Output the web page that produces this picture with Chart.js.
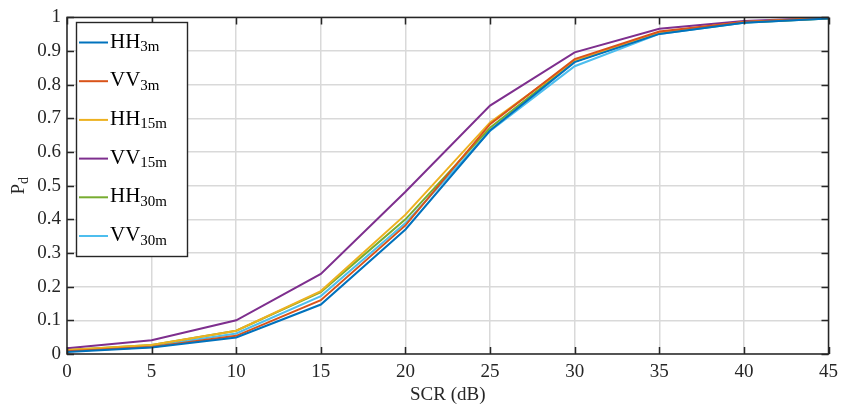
<!DOCTYPE html>
<html>
<head>
<meta charset="utf-8">
<script src="https://cdn.jsdelivr.net/npm/chart.js@4"></script>
<style>
  html, body { margin: 0; padding: 0; background: #fff; }
  #wrap { width: 845px; height: 410px; position: relative; }
</style>
</head>
<body>
<div id="wrap"><canvas id="pdChart" width="845" height="410"></canvas></div>
<script>
// SCR values (dB) on the x axis
var scr = [0, 5, 10, 15, 20, 25, 30, 35, 40, 45];

// detection probability for each polarisation / height
var hh3m  = [0.006, 0.019, 0.049, 0.147, 0.370, 0.664, 0.867, 0.951, 0.984, 0.997];
var vv3m  = [0.008, 0.021, 0.054, 0.160, 0.382, 0.683, 0.876, 0.958, 0.986, 0.998];
var hh15m = [0.012, 0.027, 0.069, 0.187, 0.414, 0.688, 0.871, 0.955, 0.986, 0.998];
var vv15m = [0.017, 0.041, 0.100, 0.238, 0.482, 0.738, 0.896, 0.966, 0.989, 0.999];
var hh30m = [0.012, 0.027, 0.069, 0.184, 0.400, 0.672, 0.869, 0.953, 0.985, 0.997];
var vv30m = [0.009, 0.023, 0.061, 0.172, 0.389, 0.663, 0.855, 0.951, 0.984, 0.997];

var xTicks = [0, 5, 10, 15, 20, 25, 30, 35, 40, 45];
var yTicks = [0, 0.1, 0.2, 0.3, 0.4, 0.5, 0.6, 0.7, 0.8, 0.9, 1];

var series = [
    { main: 'HH', sub: '3m',  data: hh3m,  color: '#0072BD' },
    { main: 'VV', sub: '3m',  data: vv3m,  color: '#D95319' },
    { main: 'HH', sub: '15m', data: hh15m, color: '#EDB120' },
    { main: 'VV', sub: '15m', data: vv15m, color: '#7E2F8E' },
    { main: 'HH', sub: '30m', data: hh30m, color: '#77AC30' },
    { main: 'VV', sub: '30m', data: vv30m, color: '#4DBEEE' }
];

var serif = '"Liberation Serif", "DejaVu Serif", serif';
var axisColor = '#262626';

// build chart datasets from the arrays above
var datasets = series.map(function(s){
    return {
        label: s.main + s.sub,
        data: scr.map(function(x, i){ return { x: x, y: s.data[i] }; }),
        borderColor: s.color,
        backgroundColor: s.color,
        borderWidth: 2,
        pointRadius: 0,
        tension: 0,
        fill: false
    };
});

// box, inner ticks, y label and legend drawn MATLAB style
var matlabFrame = {
    id: 'matlabFrame',
    afterDraw: function(chart){
        var ctx = chart.ctx;
        var a = chart.chartArea;
        var xs = chart.scales.x, ys = chart.scales.y;
        var tl = 7;
        ctx.save();
        ctx.strokeStyle = axisColor;
        ctx.lineWidth = 1.5;
        ctx.beginPath();
        xTicks.forEach(function(v){
            var px = Math.round(xs.getPixelForValue(v)) + 0.5;
            ctx.moveTo(px, a.bottom); ctx.lineTo(px, a.bottom - tl);
            ctx.moveTo(px, a.top); ctx.lineTo(px, a.top + tl);
        });
        yTicks.forEach(function(v){
            var py = Math.round(ys.getPixelForValue(v)) + 0.5;
            ctx.moveTo(a.left, py); ctx.lineTo(a.left + tl, py);
            ctx.moveTo(a.right, py); ctx.lineTo(a.right - tl, py);
        });
        ctx.stroke();
        ctx.strokeRect(a.left, a.top, a.right - a.left, a.bottom - a.top);

        // y axis label P_d
        ctx.fillStyle = axisColor;
        ctx.translate(24, (a.top + a.bottom) / 2);
        ctx.rotate(-Math.PI / 2);
        ctx.textBaseline = 'alphabetic';
        ctx.textAlign = 'left';
        ctx.font = '19px ' + serif;
        var wP = ctx.measureText('P').width;
        ctx.font = '14px ' + serif;
        var wd = ctx.measureText('d').width;
        var x0 = -(wP + wd) / 2;
        ctx.font = '19px ' + serif;
        ctx.fillText('P', x0, 0);
        ctx.font = '14px ' + serif;
        ctx.fillText('d', x0 + wP, 4);
        ctx.restore();

        // legend
        ctx.save();
        var bx = 76, by = 22, bw = 111, bh = 234;
        ctx.fillStyle = '#fff';
        ctx.fillRect(bx, by, bw, bh);
        ctx.strokeStyle = axisColor;
        ctx.lineWidth = 1.4;
        ctx.strokeRect(bx + 0.5, by + 0.5, bw, bh);
        series.forEach(function(s, i){
            var ly = 42.5 + i * 38.7;
            ctx.strokeStyle = s.color;
            ctx.lineWidth = 2;
            ctx.beginPath();
            ctx.moveTo(79, ly); ctx.lineTo(108, ly);
            ctx.stroke();
            ctx.fillStyle = '#000';
            ctx.textAlign = 'left';
            ctx.textBaseline = 'alphabetic';
            ctx.font = '21px ' + serif;
            ctx.fillText(s.main, 110, ly + 5);
            var w = ctx.measureText(s.main).width;
            ctx.font = '15px ' + serif;
            ctx.fillText(s.sub, 110 + w, ly + 8.5);
        });
        ctx.restore();
    }
};

var ctx = document.getElementById('pdChart').getContext('2d');
var pdChart = new Chart(ctx, {
    type: 'line',
    data: { datasets: datasets },
    options: {
        responsive: false,
        animation: false,
        layout: { padding: { top: 14, right: 12, left: 0, bottom: 0 } },
        plugins: {
            legend: { display: false },
            tooltip: { enabled: false }
        },
        scales: {
            x: {
                type: 'linear',
                min: 0,
                max: 45,
                afterBuildTicks: function(scale){
                    scale.ticks = xTicks.map(function(v){ return { value: v }; });
                },
                afterFit: function(scale){ scale.height = 56; },
                grid: { color: '#d9d9d9', lineWidth: 1.5, drawTicks: false },
                border: { display: false },
                ticks: {
                    color: axisColor,
                    padding: 7,
                    maxRotation: 0,
                    font: { family: serif, size: 19 }
                },
                title: {
                    display: true,
                    text: 'SCR (dB)',
                    color: axisColor,
                    padding: { top: 0, bottom: 4 },
                    font: { family: serif, size: 19 }
                }
            },
            y: {
                type: 'linear',
                min: 0,
                max: 1,
                afterBuildTicks: function(scale){
                    scale.ticks = yTicks.map(function(v){ return { value: v }; });
                },
                afterFit: function(scale){ scale.width = 67; },
                grid: { color: '#d9d9d9', lineWidth: 1.5, drawTicks: false },
                border: { display: false },
                ticks: {
                    color: axisColor,
                    padding: 6,
                    font: { family: serif, size: 19 },
                    callback: function(v){ return String(+v.toFixed(1)); }
                }
            }
        }
    },
    plugins: [matlabFrame]
});
</script>
</body>
</html>
